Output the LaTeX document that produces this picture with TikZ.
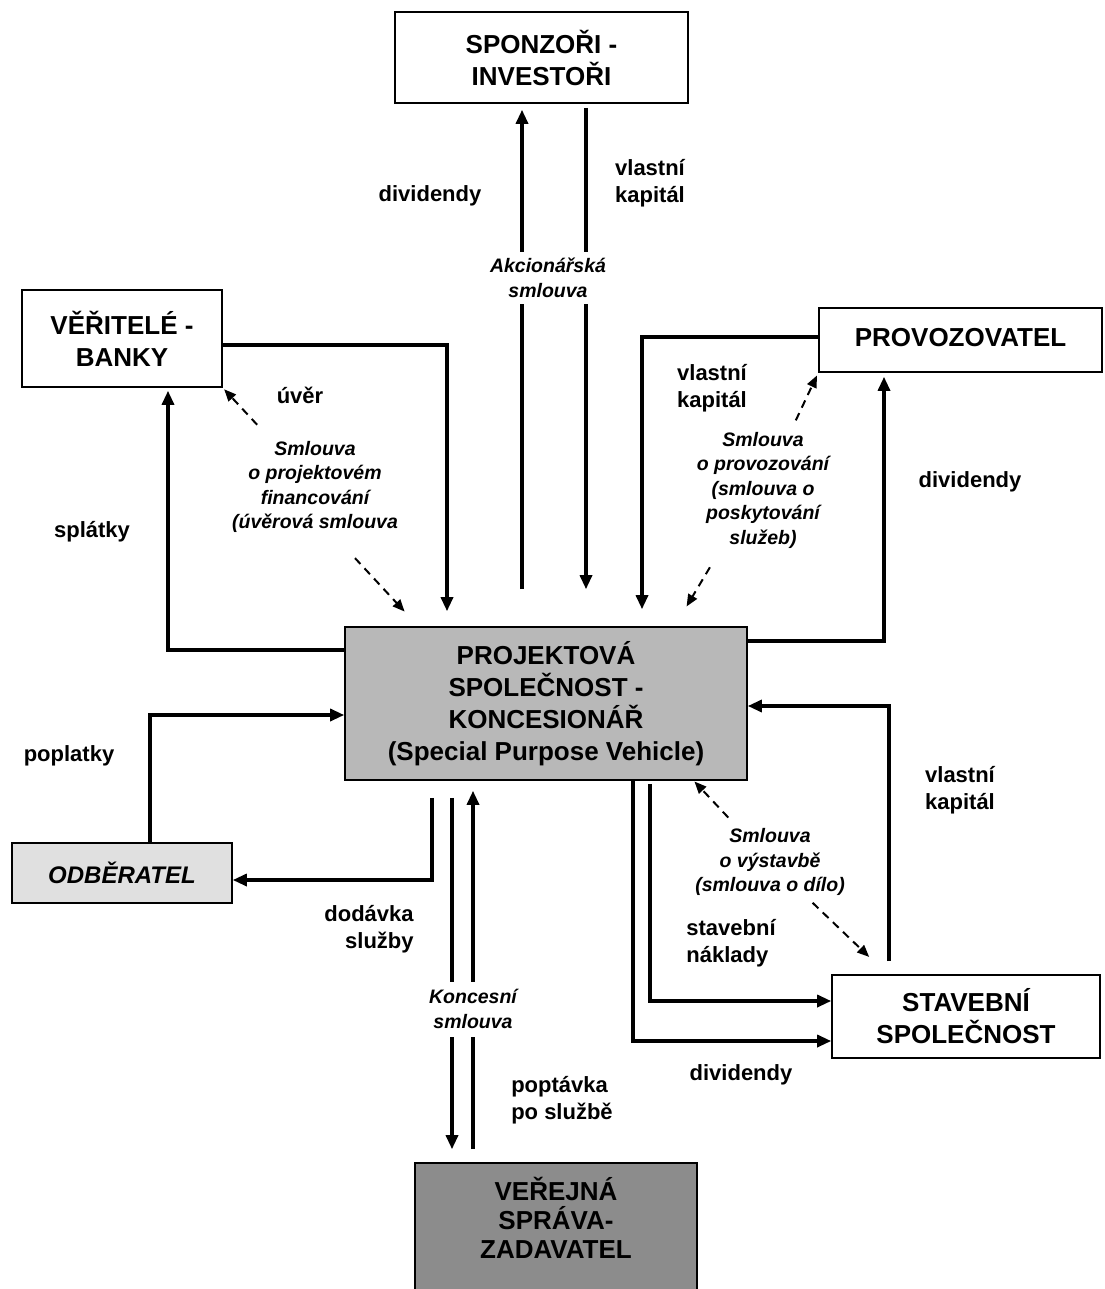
\documentclass[tikz,border=0pt]{standalone}
\usepackage{fontspec}
\setmainfont{Liberation Sans}
\usetikzlibrary{arrows.meta,calc}
\definecolor{spvgray}{gray}{0.72}
\definecolor{odbgray}{gray}{0.88}
\definecolor{vergray}{gray}{0.55}
\begin{document}
\begin{tikzpicture}[x=1pt,y=-1pt,
  box/.style={draw=black, line width=1.6pt, align=center, font=\fontsize{26}{32}\selectfont\bfseries, inner sep=0pt},
  lbl/.style={align=left, font=\fontsize{22}{27}\selectfont\bfseries, inner sep=0pt},
  ital/.style={align=center, font=\fontsize{19.5}{24.5}\selectfont\bfseries\itshape, inner sep=0pt},
  flow/.style={line width=3.2pt, -{Triangle[length=14pt,width=12pt]}},
  dasharr/.style={line width=2pt, dash pattern=on 8pt off 6pt, -{Triangle[length=12pt,width=10pt]}},
]
\clip (0,0) rectangle (1104,1289);
\fill[white] (0,0) rectangle (1104,1289);

% boxes
\node[box, minimum width=293pt, minimum height=91pt] (spons) at (541.5,57.5) {SPONZOŘI -\\INVESTOŘI};
\node[box, minimum width=200pt, minimum height=97pt] (banks) at (122,338.5) {VĚŘITELÉ -\\BANKY};
\node[box, minimum width=283pt, minimum height=64pt] (prov) at (960.5,340) {\raisebox{6pt}{PROVOZOVATEL}};
\node[box, fill=spvgray, minimum width=402pt, minimum height=153pt] (spv) at (546,703.5) {PROJEKTOVÁ\\SPOLEČNOST -\\KONCESIONÁŘ\\(Special Purpose Vehicle)};
\node[box, fill=odbgray, minimum width=220pt, minimum height=60pt, font=\fontsize{24}{28}\selectfont\bfseries\itshape] (odb) at (122,873) {ODBĚRATEL};
\node[box, minimum width=268pt, minimum height=83pt] (stav) at (966,1016.5) {STAVEBNÍ\\SPOLEČNOST};
\node[box, fill=vergray, minimum width=282pt, minimum height=140pt] (ver) at (556,1233) {};
\node[align=center, font=\fontsize{26}{29}\selectfont\bfseries, inner sep=0pt] (vertxt) at (556,1218) {VEŘEJNÁ\\SPRÁVA-\\ZADAVATEL};

% labels
\node[lbl] (l1) at (430,196) {dividendy};
\node[lbl] (l2) at (650,183) {vlastní\\kapitál};
\node[lbl] (uver) at (300,395) {úvěr};
\node[ital] (bl) at (315,487) {Smlouva\\o projektovém\\financování\\(úvěrová smlouva};
\node[lbl] (spl) at (92,532) {splátky};
\node[lbl] (vk2) at (712,388) {vlastní\\kapitál};
\node[ital] (pl) at (763,490) {Smlouva\\o provozování\\(smlouva o\\poskytování\\služeb)};
\node[lbl] (div2) at (970,482) {dividendy};
\node[lbl] (popl) at (69,756) {poplatky};
\node[lbl, align=right] (dod) at (369,929) {dodávka\\služby};
\node[lbl] (popt) at (562,1100) {poptávka\\po službě};
\node[lbl] (vk3) at (960,790) {vlastní\\kapitál};
\node[ital] (sl) at (770,862) {Smlouva\\o výstavbě\\(smlouva o dílo)};
\node[lbl] (stn) at (731,943) {stavební\\náklady};
\node[lbl] (div3) at (741,1075) {dividendy};

% sponsors
\draw[flow, shorten <=37pt, shorten >=6pt] ([xshift=-24pt]spv.north) -- ([xshift=-19.5pt]spons.south);
\draw[flow, shorten <=4pt, shorten >=37pt] ([xshift=44.5pt]spons.south) -- ([xshift=40pt]spv.north);
% banks
\draw[flow, shorten >=15pt] ([yshift=-6.5pt]banks.east) -| ([xshift=-99pt]spv.north);
\draw[flow, shorten >=3pt] ([yshift=53.5pt]spv.west) -| ([xshift=46pt]banks.south);
% operator
\draw[flow, shorten >=17pt] ([yshift=3pt]prov.west) -| ([xshift=96pt]spv.north);
\draw[flow, shorten >=4pt] ([yshift=62.5pt]spv.east) -| ([xshift=-76.5pt]prov.south);
% customer
\draw[flow] ([xshift=28pt]odb.north) |- ([yshift=-11.5pt]spv.west);
\draw[flow, shorten <=17pt] ([xshift=-114pt]spv.south) |- ([yshift=-7pt]odb.east);
% public administration
\draw[flow, shorten <=17pt, shorten >=13pt] ([xshift=-94pt]spv.south) -- ([xshift=-104pt]ver.north);
\draw[flow, shorten <=13pt, shorten >=10pt] ([xshift=-83pt]ver.north) -- ([xshift=-73pt]spv.south);
% construction company
\draw[flow, shorten <=13pt] ([xshift=-77pt]stav.north) |- ([yshift=-2.5pt]spv.east);
\draw[flow, shorten <=3pt] ([xshift=104pt]spv.south) |- ([yshift=15.5pt]stav.west);
\draw[flow] ([xshift=87pt]spv.south) |- ([yshift=-24.5pt]stav.west);

% dashed contract arrows
\draw[dasharr, shorten <=85pt, shorten >=2pt] (bl.center) -- (banks.south east);
\draw[dasharr, shorten <=97pt, shorten >=20pt] ([xshift=-26pt]bl.center) -- ([xshift=74pt]spv.north west);
\draw[dasharr, shorten <=77pt, shorten >=3pt] (pl.center) -- (prov.south west);
\draw[dasharr, shorten <=90pt, shorten >=23pt] ([xshift=-7pt]pl.center) -- ([xshift=-73pt]spv.north east);
\draw[dasharr, shorten <=61pt, shorten >=1pt] (sl.center) -- ([xshift=-54pt]spv.south east);
\draw[dasharr, shorten <=59pt, shorten >=25pt] (sl.center) -- ([xshift=56pt]stav.north west);

% contract labels on top of the lines
\node[ital, fill=white, inner ysep=6pt, inner xsep=2pt] (akc) at (548,278) {Akcionářská\\smlouva};
\node[ital, fill=white, inner ysep=8pt, inner xsep=2pt] (kon) at (473,1009) {Koncesní\\smlouva};
\end{tikzpicture}
\end{document}
